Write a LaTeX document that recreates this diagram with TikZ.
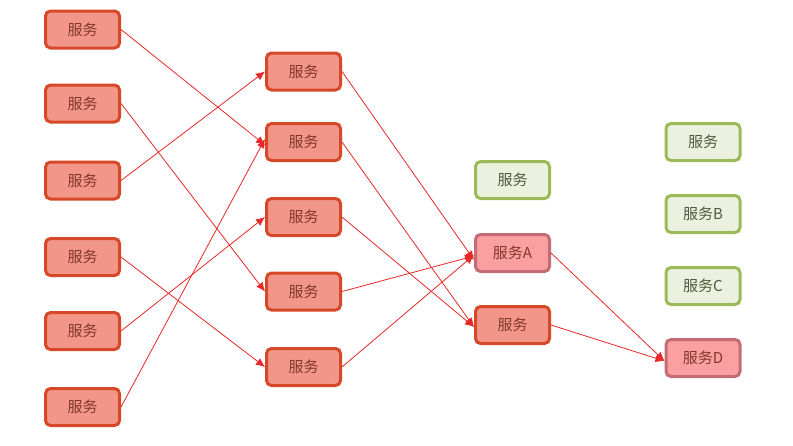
\documentclass[tikz,border=0pt]{standalone}
\usepackage{fontspec}
\setmainfont{Noto Sans CJK SC}
\usetikzlibrary{arrows.meta}
\definecolor{redfill}{RGB}{243,150,138}
\definecolor{reddraw}{RGB}{214,72,40}
\definecolor{redtext}{RGB}{130,55,45}
\definecolor{pinkfill}{RGB}{250,160,160}
\definecolor{pinkdraw}{RGB}{196,108,118}
\definecolor{greenfill}{RGB}{235,241,222}
\definecolor{greendraw}{RGB}{155,187,89}
\definecolor{greentext}{RGB}{80,88,60}
\definecolor{arrowred}{RGB}{232,40,40}
\tikzset{
  box/.style={rectangle, rounded corners=5pt, line width=3pt, minimum width=74pt, minimum height=37pt, inner sep=0pt, font=\fontsize{15}{17}\selectfont},
  redbox/.style={box, fill=redfill, draw=reddraw, text=redtext},
  pinkbox/.style={box, fill=pinkfill, draw=pinkdraw, text=redtext},
  greenbox/.style={box, fill=greenfill, draw=greendraw, text=greentext},
  conn/.style={draw=arrowred, line width=0.8pt, -{Latex[length=9pt,width=8pt]}}
}
\begin{document}
\begin{tikzpicture}[x=1pt,y=-1pt]
\useasboundingbox[fill=white] (0,0) rectangle (793,445);
% column 1
\node[redbox] (a1) at (82.5,29.5) {服务};
\node[redbox] (a2) at (82.5,103.5) {服务};
\node[redbox] (a3) at (82.5,180.5) {服务};
\node[redbox] (a4) at (82.5,257) {服务};
\node[redbox] (a5) at (82.5,331) {服务};
\node[redbox] (a6) at (82.5,407) {服务};
% column 2
\node[redbox] (b1) at (303.5,71.5) {服务};
\node[redbox] (b2) at (303.5,142) {服务};
\node[redbox] (b3) at (303.5,217) {服务};
\node[redbox] (b4) at (303.5,291.5) {服务};
\node[redbox] (b5) at (303.5,367) {服务};
% column 3
\node[greenbox] (c1) at (512.5,180) {服务};
\node[pinkbox] (cA) at (512.5,253) {服务A};
\node[redbox] (c3) at (512.5,325) {服务};
% column 4
\node[greenbox] (d1) at (703,142) {服务};
\node[greenbox] (dB) at (703,214) {服务B};
\node[greenbox] (dC) at (703,286) {服务C};
\node[pinkbox] (dD) at (703,358) {服务D};
% connectors
\draw[conn] (a1.east) -- ([yshift=-3pt]b2.west);
\draw[conn] (a2.east) -- (b4.west);
\draw[conn] (a3.east) -- (b1.west);
\draw[conn] (a4.east) -- (b5.west);
\draw[conn] (a5.east) -- (b3.west);
\draw[conn] (a6.east) -- ([yshift=3pt]b2.west);
\draw[conn] (b1.east) -- ([yshift=-7pt]cA.west);
\draw[conn] (b2.east) -- ([yshift=-2pt]c3.west);
\draw[conn] (b3.east) -- ([yshift=-2pt]c3.west);
\draw[conn] (b4.east) -- ([yshift=-3pt]cA.west);
\draw[conn] (b5.east) -- ([yshift=-2pt]cA.west);
\draw[conn] (cA.east) -- ([yshift=-3pt]dD.west);
\draw[conn] (c3.east) -- ([yshift=-3pt]dD.west);
\end{tikzpicture}
\end{document}
